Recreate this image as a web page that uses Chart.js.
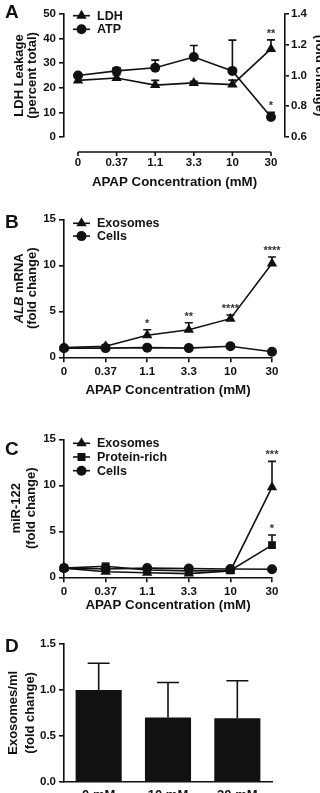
<!DOCTYPE html>
<html>
<head>
<meta charset="utf-8">
<script src="https://cdn.jsdelivr.net/npm/chart.js@4.4.1/dist/chart.umd.min.js"></script>
<style>
  html, body { margin: 0; padding: 0; background: #fff; overflow: hidden; width: 320px; height: 793px; }
  canvas { position: absolute; left: 0; }
</style>
</head>
<body>
<canvas id="chartA" width="340" height="200" style="top:0"></canvas>
<canvas id="chartB" width="320" height="200" style="top:200px"></canvas>
<canvas id="chartC" width="320" height="215" style="top:400px"></canvas>
<canvas id="chartD" width="320" height="200" style="top:610px"></canvas>
<script>
// values
const concLabels = ['0', '0.37', '1.1', '3.3', '10', '30'];

// A: LDH leakage (left axis) and ATP (right axis)
const ldhLeak = [23, 24, 21.1, 22, 21.3, 35.8];
const ldhErr = [1.4, 1.2, 1.9, 0.6, 1.8, 3.7];
const ldhStars = ['', '', '', '', '', '**'];
const atpFold = [1.0, 1.03, 1.05, 1.12, 1.03, 0.73];
const atpErr = [0.01, 0.02, 0.05, 0.075, 0.2, 0.03];
const atpStars = ['', '', '', '', '', '*'];

// B: ALB mRNA
const albExo = [1.05, 1.2, 2.4, 3.0, 4.2, 10.2];
const albExoErr = [0.1, 0.15, 0.6, 0.75, 0.4, 0.7];
const albExoStars = ['', '', '*', '**', '****', '****'];
const albCells = [1.0, 1.0, 1.05, 1.0, 1.2, 0.6];
const albCellsErr = [0.05, 0.05, 0.05, 0.05, 0.2, 0.05];

// C: miR-122
const mirExo = [1.0, 0.6, 0.5, 0.4, 0.7, 9.8];
const mirExoErr = [0.1, 0.1, 0.1, 0.1, 0.1, 2.8];
const mirExoStars = ['', '', '', '', '', '***'];
const mirProt = [1.0, 1.2, 0.8, 0.7, 0.75, 3.5];
const mirProtErr = [0.1, 0.2, 0.1, 0.1, 0.1, 1.1];
const mirProtStars = ['', '', '', '', '', '*'];
const mirCells = [1.0, 0.9, 1.0, 0.95, 0.9, 0.87];

// D: exosome counts
const doseLabels = ['0 mM', '10 mM', '30 mM'];
const exoCount = [1.0, 0.70, 0.69];
const exoCountErr = [0.29, 0.38, 0.41];

const INK = '#111';
const FAMILY = '"Liberation Sans", Arial, Helvetica, sans-serif';
Chart.defaults.font.family = FAMILY;
Chart.defaults.font.weight = 'bold';
Chart.defaults.color = INK;

const tickFont = { size: 11.5, weight: 'bold' };
const xTitleFont = { size: 13.3, weight: 'bold', lineHeight: 1.2 };
const yTitleFont = (lh) => ({ size: 13, weight: 'bold', lineHeight: lh + 'px' });

// error bars (upper only) and significance stars
const errorBars = {
  id: 'errorBars',
  afterDatasetsDraw(chart) {
    const ctx = chart.ctx;
    chart.data.datasets.forEach((ds, i) => {
      if (!ds.errors) return;
      const meta = chart.getDatasetMeta(i);
      const ys = chart.scales[meta.yAxisID];
      meta.data.forEach((el, j) => {
        const v = typeof ds.data[j] === 'object' ? ds.data[j].y : ds.data[j];
        const top = ys.getPixelForValue(v + ds.errors[j]);
        ctx.save();
        ctx.strokeStyle = INK;
        ctx.lineWidth = 1.6;
        ctx.beginPath();
        ctx.moveTo(el.x, el.y);
        ctx.lineTo(el.x, top);
        ctx.moveTo(el.x - ds.cap, top);
        ctx.lineTo(el.x + ds.cap, top);
        ctx.stroke();
        if (ds.stars && ds.stars[j]) {
          ctx.fillStyle = '#333';
          ctx.font = 'bold 11px ' + FAMILY;
          ctx.textAlign = 'center';
          ctx.textBaseline = 'alphabetic';
          ctx.fillText(ds.stars[j], el.x, top - 3);
        }
        ctx.restore();
      });
    });
  }
};

function marker(ctx, style, x, y) {
  ctx.beginPath();
  if (style === 'triangle') {
    ctx.moveTo(x, y - 6);
    ctx.lineTo(x + 5.2, y + 3);
    ctx.lineTo(x - 5.2, y + 3);
    ctx.closePath();
  } else if (style === 'rect') {
    ctx.rect(x - 4, y - 4, 8, 8);
  } else {
    ctx.arc(x, y, 5, 0, Math.PI * 2);
  }
  ctx.fill();
}

// panel letter + key, drawn with the canvas
function decor(letter, letterY, keyItems, keyY, keyDy) {
  return {
    id: 'decor' + letter,
    afterDraw(chart) {
      const ctx = chart.ctx;
      ctx.save();
      ctx.fillStyle = INK;
      ctx.strokeStyle = INK;
      ctx.font = 'bold 19px ' + FAMILY;
      ctx.textBaseline = 'middle';
      ctx.textAlign = 'left';
      ctx.fillText(letter, 5, letterY);
      ctx.font = 'bold 12.5px ' + FAMILY;
      keyItems.forEach((it, k) => {
        const y = keyY + k * keyDy;
        ctx.lineWidth = 1.6;
        ctx.beginPath();
        ctx.moveTo(73, y);
        ctx.lineTo(90, y);
        ctx.stroke();
        marker(ctx, it.style, 81.5, y);
        ctx.fillText(it.label, 97, y + 0.5);
      });
      ctx.restore();
    }
  };
}

function yAxis(min, max, step, extra) {
  return Object.assign({
    min: min, max: max,
    ticks: { stepSize: step, font: tickFont, color: INK, padding: 3 },
    grid: { drawOnChartArea: false, drawTicks: true, tickLength: 5, color: INK, lineWidth: 1.6 },
    border: { display: true, color: INK, width: 1.6 },
    afterFit: s => { s.width = 64; }
  }, extra || {});
}

function lineSet(label, values, style, radius, errors, stars, axis) {
  return {
    label: label,
    data: values.map((v, i) => ({ x: i, y: v })),
    yAxisID: axis || 'y',
    borderColor: INK, backgroundColor: INK, borderWidth: 1.6,
    pointStyle: style, pointRadius: radius,
    pointBackgroundColor: INK, pointBorderColor: INK, pointBorderWidth: 0,
    tension: 0, clip: false,
    errors: errors, stars: stars, cap: 4
  };
}

// ---------- A ----------
const offsetXAxis = {
  id: 'offsetXAxis',
  afterDraw(chart) {
    const xs = chart.scales.x;
    const ctx = chart.ctx;
    const y = chart.chartArea.bottom + 15;
    ctx.save();
    ctx.strokeStyle = INK;
    ctx.lineWidth = 1.6;
    ctx.beginPath();
    ctx.moveTo(xs.getPixelForValue(0), y);
    ctx.lineTo(xs.getPixelForValue(concLabels.length - 1), y);
    concLabels.forEach((_, i) => {
      const px = xs.getPixelForValue(i);
      ctx.moveTo(px, y);
      ctx.lineTo(px, y + 4);
    });
    ctx.stroke();
    ctx.restore();
  }
};

new Chart(document.getElementById('chartA'), {
  type: 'line',
  data: {
    datasets: [
      lineSet('LDH', ldhLeak, 'triangle', 6, ldhErr, ldhStars, 'y'),
      lineSet('ATP', atpFold, 'circle', 5, atpErr, atpStars, 'y1')
    ]
  },
  options: {
    responsive: false, animation: false, devicePixelRatio: 1,
    layout: { padding: { top: 14, left: 0, right: 0, bottom: 0 } },
    plugins: { legend: { display: false }, tooltip: { enabled: false } },
    scales: {
      x: {
        type: 'linear', min: -0.363, max: 5.363,
        afterBuildTicks: s => { s.ticks = concLabels.map((_, i) => ({ value: i })); },
        ticks: { callback: v => concLabels[v], font: tickFont, color: INK, padding: 19, maxRotation: 0, autoSkip: false },
        grid: { display: false, drawTicks: false },
        border: { display: false },
        title: { display: true, text: 'APAP Concentration (mM)', font: xTitleFont, padding: { top: 0, bottom: 10 } },
        afterFit: s => { s.height = 63; }
      },
      y: yAxis(0, 50, 10, {
        title: { display: true, text: ['LDH Leakage', '(percent total)'], font: yTitleFont(13), padding: { top: 13, bottom: 0 } }
      }),
      y1: yAxis(0.6, 1.4, 0.2, {
        position: 'right',
        ticks: { stepSize: 0.2, font: tickFont, color: INK, padding: 2, callback: v => v.toFixed(1) },
        grid: { drawOnChartArea: false, drawTicks: true, tickLength: 4, color: INK, lineWidth: 1.6 },
        title: { display: true, text: ['ATP', '(fold change)'], font: yTitleFont(13), padding: { top: 0.5, bottom: 0 } },
        afterFit: s => { s.width = 55; }
      })
    }
  },
  plugins: [errorBars, offsetXAxis, decor('A', 13, [{ label: 'LDH', style: 'triangle' }, { label: 'ATP', style: 'circle' }], 15.7, 13.6)]
});

// ---------- B ----------
const albTitle = {
  id: 'albTitle',
  afterDraw(chart) {
    const ctx = chart.ctx;
    const cy = (chart.chartArea.top + chart.chartArea.bottom) / 2;
    ctx.save();
    ctx.fillStyle = INK;
    ctx.textBaseline = 'middle';
    ctx.translate(19.5, cy);
    ctx.rotate(-Math.PI / 2);
    const f1 = 'italic bold 13px ' + FAMILY;
    const f2 = 'bold 13px ' + FAMILY;
    ctx.font = f1;
    const w1 = ctx.measureText('ALB').width;
    ctx.font = f2;
    const w2 = ctx.measureText(' mRNA').width;
    const x = -(w1 + w2) / 2;
    ctx.textAlign = 'left';
    ctx.font = f1;
    ctx.fillText('ALB', x, 0);
    ctx.font = f2;
    ctx.fillText(' mRNA', x + w1, 0);
    ctx.textAlign = 'center';
    ctx.fillText('(fold change)', 0, 13);
    ctx.restore();
  }
};

const catX = (boxHeight) => ({
  type: 'linear', min: 0, max: concLabels.length - 1,
  afterBuildTicks: s => { s.ticks = concLabels.map((_, i) => ({ value: i })); },
  ticks: { callback: v => concLabels[v], font: tickFont, color: INK, padding: 3, maxRotation: 0, autoSkip: false },
  grid: { drawOnChartArea: false, drawTicks: true, tickLength: 5, color: INK, lineWidth: 1.6 },
  border: { display: true, color: INK, width: 1.6 },
  title: { display: true, text: 'APAP Concentration (mM)', font: xTitleFont, padding: { top: 0, bottom: 2 } },
  afterFit: s => { s.height = boxHeight; }
});

new Chart(document.getElementById('chartB'), {
  type: 'line',
  data: {
    datasets: [
      lineSet('Exosomes', albExo, 'triangle', 6, albExoErr, albExoStars),
      lineSet('Cells', albCells, 'circle', 5, albCellsErr, null)
    ]
  },
  options: {
    responsive: false, animation: false, devicePixelRatio: 1,
    layout: { padding: { top: 19.3, left: 0, right: 48, bottom: 0 } },
    plugins: { legend: { display: false }, tooltip: { enabled: false } },
    scales: {
      x: catX(42.7),
      y: yAxis(0, 15, 5)
    }
  },
  plugins: [errorBars, albTitle, decor('B', 22.7, [{ label: 'Exosomes', style: 'triangle' }, { label: 'Cells', style: 'circle' }], 23.3, 12.8)]
});

// ---------- C ----------
new Chart(document.getElementById('chartC'), {
  type: 'line',
  data: {
    datasets: [
      lineSet('Exosomes', mirExo, 'triangle', 6, mirExoErr, mirExoStars),
      lineSet('Protein-rich', mirProt, 'rect', 5.5, mirProtErr, mirProtStars),
      lineSet('Cells', mirCells, 'circle', 5, null, null)
    ]
  },
  options: {
    responsive: false, animation: false, devicePixelRatio: 1,
    layout: { padding: { top: 39.3, left: 0, right: 48, bottom: 0 } },
    plugins: { legend: { display: false }, tooltip: { enabled: false } },
    scales: {
      x: catX(37.7),
      y: yAxis(0, 15, 5, {
        title: { display: true, text: ['miR-122', '(fold change)'], font: yTitleFont(15), padding: { top: 9, bottom: 0 } }
      })
    }
  },
  plugins: [errorBars, decor('C', 49.3, [{ label: 'Exosomes', style: 'triangle' }, { label: 'Protein-rich', style: 'rect' }, { label: 'Cells', style: 'circle' }], 43.3, 13.7)]
});

// ---------- D ----------
new Chart(document.getElementById('chartD'), {
  type: 'bar',
  data: {
    labels: doseLabels,
    datasets: [{
      label: 'Exosomes/ml',
      data: exoCount,
      backgroundColor: INK,
      borderWidth: 0,
      categoryPercentage: 1,
      barPercentage: 0.665,
      errors: exoCountErr,
      cap: 11
    }]
  },
  options: {
    responsive: false, animation: false, devicePixelRatio: 1,
    layout: { padding: { top: 34, left: 0, right: 48, bottom: 0 } },
    plugins: { legend: { display: false }, tooltip: { enabled: false } },
    scales: {
      x: {
        ticks: { font: { size: 13, weight: 'bold' }, color: INK, padding: 6 },
        grid: { display: false, drawTicks: false },
        border: { display: true, color: INK, width: 1.6 },
        afterFit: s => { s.height = 28.3; }
      },
      y: yAxis(0, 1.5, 0.5, {
        ticks: { stepSize: 0.5, font: tickFont, color: INK, padding: 3, callback: v => v.toFixed(1) },
        title: { display: true, text: ['Exosomes/ml', '(fold change)'], font: yTitleFont(17), padding: { top: 5, bottom: 0 } }
      })
    }
  },
  plugins: [errorBars, decor('D', 36.7, [], 0, 0)]
});
</script>
</body>
</html>
